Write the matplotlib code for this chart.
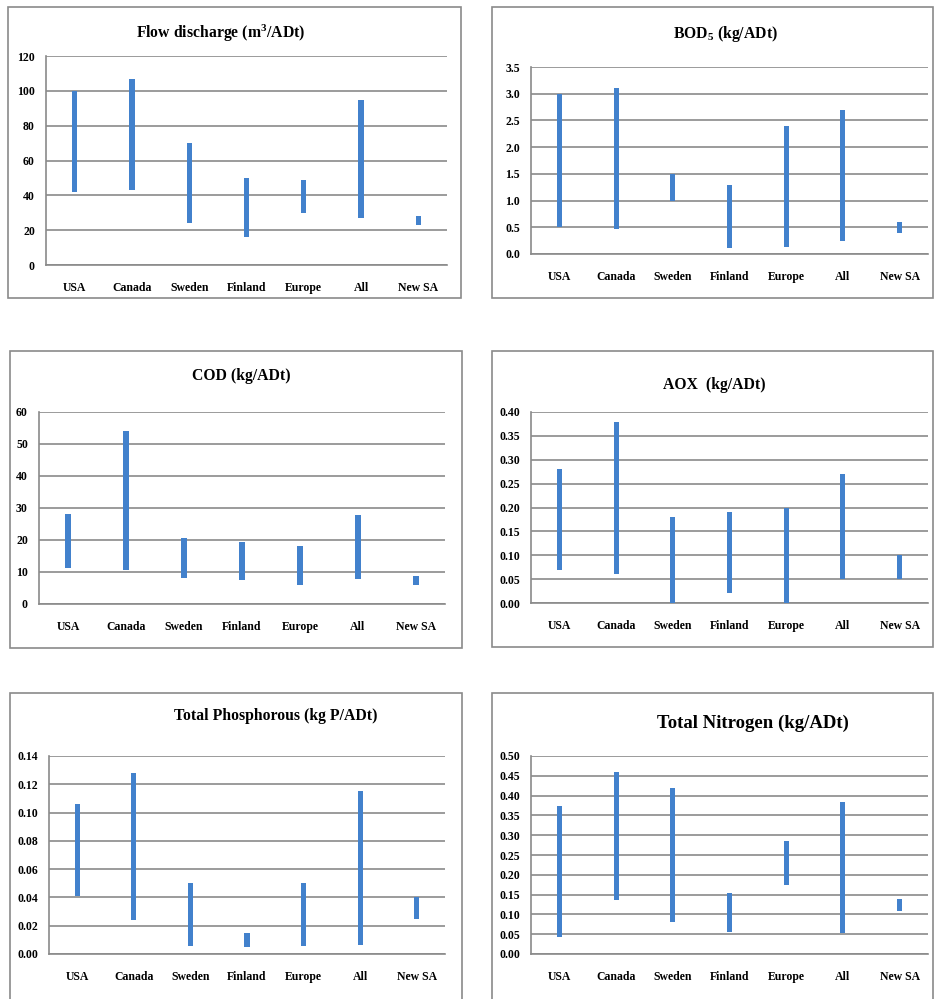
import numpy as np
import matplotlib
matplotlib.use('Agg')
import matplotlib.pyplot as plt
from matplotlib.patches import Rectangle

plt.rcParams['font.family'] = ['Liberation Serif', 'DejaVu Serif']
plt.rcParams['font.weight'] = 'bold'
plt.rcParams['mathtext.fontset'] = 'custom'
plt.rcParams['mathtext.rm'] = 'Liberation Serif:bold'
plt.rcParams['mathtext.bf'] = 'Liberation Serif:bold'
plt.rcParams['mathtext.it'] = 'Liberation Serif:bold'
plt.rcParams['mathtext.default'] = 'bf'

bolgeler = ['USA', 'Canada', 'Sweden', 'Finland', 'Europe', 'All', 'New SA']

# alt / ust degerler
akis_alt = [42, 43, 24, 16, 30, 27, 23]
akis_ust = [100, 107, 70, 50, 49, 95, 28]

bod_alt = [0.5, 0.46, 1.0, 0.12, 0.13, 0.24, 0.4]
bod_ust = [3.0, 3.1, 1.5, 1.3, 2.4, 2.7, 0.6]

cod_alt = [11.2, 10.5, 8.1, 7.6, 6.0, 7.9, 5.8]
cod_ust = [28.1, 54.2, 20.5, 19.3, 18.2, 27.7, 8.8]

aox_alt = [0.07, 0.06, 0.0, 0.02, 0.0, 0.05, 0.05]
aox_ust = [0.28, 0.38, 0.18, 0.19, 0.20, 0.27, 0.10]

fosfor_alt = [0.041, 0.024, 0.006, 0.005, 0.006, 0.0065, 0.025]
fosfor_ust = [0.106, 0.128, 0.050, 0.0145, 0.050, 0.115, 0.040]

azot_alt = [0.044, 0.136, 0.082, 0.055, 0.174, 0.052, 0.109]
azot_ust = [0.375, 0.459, 0.420, 0.153, 0.286, 0.383, 0.138]

W, H = 936, 999
fig = plt.figure(figsize=(W / 100, H / 100), dpi=100)
fig.patch.set_facecolor('white')


def piksel_rect(sol, ust, sag, alt):
    return [sol / W, 1 - alt / H, (sag - sol) / W, (alt - ust) / H]


paneller = [
    # baslik, alt, ust, ymax, adim, format, axes px, kutu px, baslik px, boyut
    ('Flow discharge (m$^3$/ADt)', akis_alt, akis_ust, 120, 20, '{:.0f}',
     (46, 56, 447, 265), (8, 7, 461, 298), (221, 33), 11.3),
    ('BOD$_5$ (kg/ADt)', bod_alt, bod_ust, 3.5, 0.5, '{:.1f}',
     (531, 67, 928, 254), (492, 7, 933, 298), (725, 34), 11.3),
    ('COD (kg/ADt)', cod_alt, cod_ust, 60, 10, '{:.0f}',
     (39, 412, 445, 604), (10, 351, 462, 648), (241, 376), 11.3),
    ('AOX  (kg/ADt)', aox_alt, aox_ust, 0.40, 0.05, '{:.2f}',
     (531, 412, 928, 603), (492, 351, 933, 647), (714, 385), 11.3),
    ('Total Phosphorous (kg P/ADt)', fosfor_alt, fosfor_ust, 0.14, 0.02, '{:.2f}',
     (49, 756, 445, 954), (10, 693, 462, 1010), (276, 716), 11.3),
    ('Total Nitrogen (kg/ADt)', azot_alt, azot_ust, 0.50, 0.05, '{:.2f}',
     (531, 756, 928, 954), (492, 693, 933, 1010), (753, 723), 13.5),
]

x = np.arange(len(bolgeler))

for baslik, alt, ust, ymax, adim, fmt, ax_px, kutu_px, bas_px, boyut in paneller:
    # cerceve
    k = piksel_rect(*kutu_px)
    fig.patches.append(Rectangle((k[0], k[1]), k[2], k[3], transform=fig.transFigure,
                                 fill=False, edgecolor='#8a8a8a', linewidth=1.2))

    ax = fig.add_axes(piksel_rect(*ax_px))
    alt = np.array(alt)
    ust = np.array(ust)
    ax.bar(x, ust - alt, bottom=alt, width=0.09, color='#4281cc', zorder=3)

    ax.set_xlim(-0.5, len(bolgeler) - 0.5)
    ax.set_ylim(0, ymax)
    yt = np.arange(0, ymax + adim / 2, adim)
    ax.set_yticks(yt)
    ax.set_yticklabels([fmt.format(v) for v in yt])
    ax.set_xticks(x)
    ax.set_xticklabels(bolgeler)
    ax.tick_params(axis='both', length=0, labelsize=8.5)
    ax.tick_params(axis='y', pad=8)
    ax.tick_params(axis='x', pad=12)
    ax.yaxis.grid(True, color='#8a8a8a', linewidth=1.2, zorder=0)
    ax.set_axisbelow(True)
    for s in ['top', 'right']:
        ax.spines[s].set_visible(False)
    for s in ['left', 'bottom']:
        ax.spines[s].set_color('#8a8a8a')
        ax.spines[s].set_linewidth(1.2)
    ax.set_facecolor('none')

    fig.text(bas_px[0] / W, 1 - bas_px[1] / H, baslik, ha='center', va='center',
             fontsize=boyut, fontweight='bold')

fig.savefig('out.png', dpi=100, facecolor='white')
